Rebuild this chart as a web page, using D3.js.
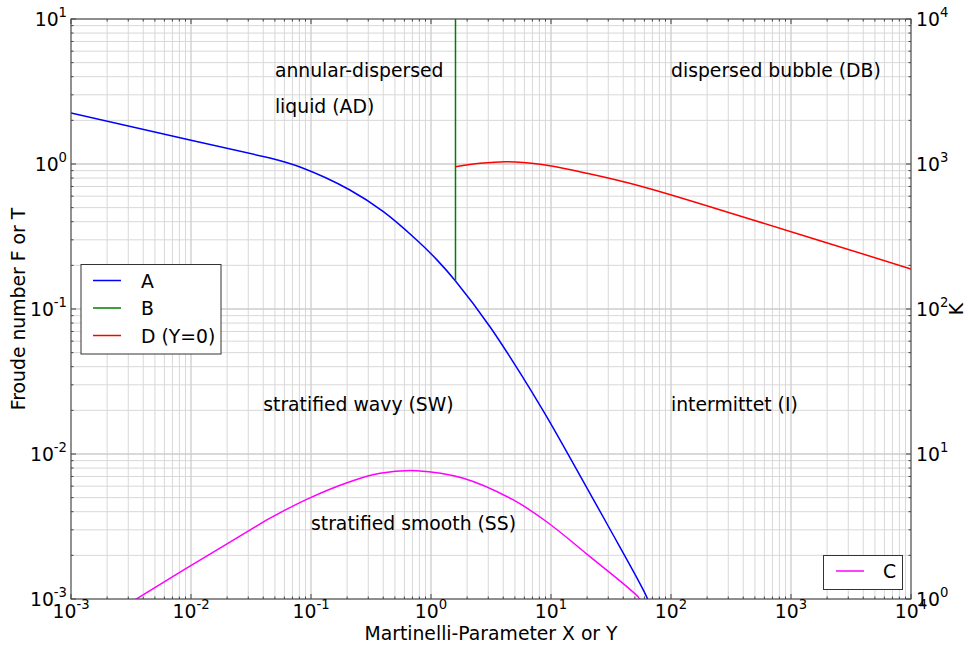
<!DOCTYPE html>
<html><head><meta charset="utf-8">
<script src="https://cdn.jsdelivr.net/npm/d3@7"></script>
<style>body{margin:0;background:#fff}svg{display:block;font-family:"DejaVu Sans",sans-serif}</style>
</head><body><svg id="c" width="968" height="645"></svg>
<script>
// ---- data ----
const xTickExps = ["-3","-2","-1","0","1","2","3","4"];
const yLeftTickExps = ["-3","-2","-1","0","1"];
const yRightTickExps = ["0","1","2","3","4"];

const seriesNames = ["A","B","D (Y=0)","C"];

const aX = [0.001, 0.01, 0.0455, 0.081, 0.211, 0.401, 0.76, 1.116, 1.6, 3.1, 5.88, 9.2, 15.3, 29.1, 62.8, 64.5];
const aY = [2.25, 1.46, 1.10, 0.953, 0.662, 0.469, 0.299, 0.219, 0.156, 0.0755, 0.0334, 0.0181, 0.00863, 0.00333, 0.00103, 0.00095];
const aKink = 0.0455;

const bX = [1.6, 1.6];
const bY = [0.156, 10];

const dX = [1.6, 2.56, 4.27, 8.1, 19.9, 55.2, 482, 10000];
const dY = [0.958, 1.011, 1.037, 0.995, 0.863, 0.705, 0.411, 0.189];

// C is plotted against the right axis (K)
const cX = [0.0033, 0.00863, 0.0225, 0.0428, 0.092, 0.211, 0.376, 0.76, 1.86, 4.85, 9.2, 19.9, 53.4, 55];
const cK = [0.97, 1.58, 2.55, 3.51, 4.87, 6.44, 7.36, 7.67, 6.80, 4.82, 3.41, 2.04, 1.03, 0.98];
const cKink = 0.0428;

const annTexts = ["annular-dispersed", "liquid (AD)", "dispersed bubble (DB)", "stratified wavy (SW)", "intermittet (I)", "stratified smooth (SS)"];
const annX = [0.05, 0.05, 100, 0.04, 100, 0.1];
const annY = [4, 2.23, 4, 0.0198, 0.0198, 0.003];

const xLabel = "Martinelli-Parameter X or Y";
const yLabel = "Froude number F or T";
const y2Label = "K";

// ---- layout ----
const L = 71, R = 911, T = 19, B = 599;
const svg = d3.select("#c");
const x = d3.scaleLog().domain([1e-3, 1e4]).range([L, R]);
const y = d3.scaleLog().domain([1e-3, 1e1]).range([B, T]);
const y2 = d3.scaleLog().domain([1e0, 1e4]).range([B, T]);

const FS = 18.8, SFS = 13.2;

// grid
const decX = d3.range(-3, 4), decY = d3.range(-3, 1);
const minorX = [], minorY = [];
decX.forEach(e => { for (let m = 2; m <= 9; m++) minorX.push(m * Math.pow(10, e)); });
decY.forEach(e => { for (let m = 2; m <= 9; m++) minorY.push(m * Math.pow(10, e)); });
const majorX = xTickExps.map(e => Math.pow(10, +e));
const majorY = yLeftTickExps.map(e => Math.pow(10, +e));

const g = svg.append("g");
g.selectAll(".mgx").data(minorX).join("line")
  .attr("x1", d => x(d)).attr("x2", d => x(d)).attr("y1", T).attr("y2", B)
  .attr("stroke", "#d8d8d8").attr("stroke-width", 1);
g.selectAll(".mgy").data(minorY).join("line")
  .attr("y1", d => y(d)).attr("y2", d => y(d)).attr("x1", L).attr("x2", R)
  .attr("stroke", "#d8d8d8").attr("stroke-width", 1);
g.selectAll(".Mgx").data(majorX).join("line")
  .attr("x1", d => x(d)).attr("x2", d => x(d)).attr("y1", T).attr("y2", B)
  .attr("stroke", "#cccccc").attr("stroke-width", 1.3);
g.selectAll(".Mgy").data(majorY).join("line")
  .attr("y1", d => y(d)).attr("y2", d => y(d)).attr("x1", L).attr("x2", R)
  .attr("stroke", "#cccccc").attr("stroke-width", 1.3);

// clip
svg.append("clipPath").attr("id", "clip").append("rect")
  .attr("x", L).attr("y", T).attr("width", R - L).attr("height", B - T);
const plot = svg.append("g").attr("clip-path", "url(#clip)");

const mk = (xs, ys, sc) => xs.map((v, i) => [x(v), sc(ys[i])]);
const smooth = d3.line().curve(d3.curveCatmullRom.alpha(0.5));
const straight = d3.line();

function kinked(xs, ys, sc, kink) {
  const pts = mk(xs, ys, sc);
  const k = xs.findIndex(v => v >= kink);
  return straight(pts.slice(0, k + 1)) + smooth(pts.slice(k)).replace(/^M[^C]*/, "");
}
function drawPath(d, color) {
  plot.append("path").attr("d", d).attr("fill", "none").attr("stroke", color)
    .attr("stroke-width", 1.5).attr("stroke-linejoin", "round");
}
drawPath(kinked(aX, aY, y, aKink), "#0000ff");
drawPath(straight(mk(bX, bY, y)), "#008000");
drawPath(smooth(mk(dX, dY, y)), "#ff0000");
drawPath(kinked(cX, cK, y2, cKink), "#ff00ff");

// frame
svg.append("rect").attr("x", L).attr("y", T).attr("width", R - L).attr("height", B - T)
  .attr("fill", "none").attr("stroke", "#444").attr("stroke-width", 1);

// ticks (inward)
const tk = svg.append("g").attr("stroke", "#444").attr("stroke-width", 1);
majorX.forEach(v => {
  tk.append("line").attr("x1", x(v)).attr("x2", x(v)).attr("y1", B).attr("y2", B - 5);
  tk.append("line").attr("x1", x(v)).attr("x2", x(v)).attr("y1", T).attr("y2", T + 5);
});
minorX.forEach(v => {
  tk.append("line").attr("x1", x(v)).attr("x2", x(v)).attr("y1", B).attr("y2", B - 2.5);
  tk.append("line").attr("x1", x(v)).attr("x2", x(v)).attr("y1", T).attr("y2", T + 2.5);
});
majorY.forEach(v => {
  tk.append("line").attr("y1", y(v)).attr("y2", y(v)).attr("x1", L).attr("x2", L + 5);
  tk.append("line").attr("y1", y(v)).attr("y2", y(v)).attr("x1", R).attr("x2", R - 5);
});
minorY.forEach(v => {
  tk.append("line").attr("y1", y(v)).attr("y2", y(v)).attr("x1", L).attr("x2", L + 2.5);
  tk.append("line").attr("y1", y(v)).attr("y2", y(v)).attr("x1", R).attr("x2", R - 2.5);
});

// tick labels
function powLabel(sel, exp, px, py, anchor) {
  const t = sel.append("text").attr("x", px).attr("y", py).attr("text-anchor", anchor)
    .attr("font-size", FS).attr("fill", "#000");
  t.append("tspan").text("10");
  t.append("tspan").attr("font-size", SFS).attr("dy", -9).text(exp);
}
const lab = svg.append("g");
xTickExps.forEach(e => powLabel(lab, e, x(Math.pow(10, +e)), 618, "middle"));
yLeftTickExps.forEach(e => powLabel(lab, e, 67, y(Math.pow(10, +e)) + 7, "end"));
yRightTickExps.forEach(e => powLabel(lab, e, 916, y2(Math.pow(10, +e)) + 7, "start"));

// axis labels
svg.append("text").attr("x", (L + R) / 2).attr("y", 640).attr("text-anchor", "middle")
  .attr("font-size", FS).text(xLabel);
svg.append("text").attr("transform", `translate(25,${(T + B) / 2}) rotate(-90)`).attr("text-anchor", "middle")
  .attr("font-size", FS).text(yLabel);
svg.append("text").attr("transform", `translate(963,${(T + B) / 2}) rotate(-90)`).attr("text-anchor", "middle")
  .attr("font-size", FS).text(y2Label);

// annotations
annTexts.forEach((s, i) => {
  svg.append("text").attr("x", x(annX[i])).attr("y", y(annY[i])).attr("font-size", FS).text(s);
});

// legends
const colors = ["#0000ff", "#008000", "#ff0000", "#ff00ff"];
const lg = svg.append("g");
lg.append("rect").attr("x", 81).attr("y", 264.5).attr("width", 140).attr("height", 89.5)
  .attr("fill", "#fff").attr("stroke", "#333").attr("stroke-width", 1);
[0, 1, 2].forEach(i => {
  const yy = 280.5 + i * 27.5;
  lg.append("line").attr("x1", 93).attr("x2", 121).attr("y1", yy).attr("y2", yy)
    .attr("stroke", colors[i]).attr("stroke-width", 1.5);
  lg.append("text").attr("x", 141).attr("y", yy + 7).attr("font-size", FS).text(seriesNames[i]);
});
lg.append("rect").attr("x", 823.5).attr("y", 555.5).attr("width", 79).attr("height", 34)
  .attr("fill", "#fff").attr("stroke", "#333").attr("stroke-width", 1);
lg.append("line").attr("x1", 836).attr("x2", 864).attr("y1", 571).attr("y2", 571)
  .attr("stroke", colors[3]).attr("stroke-width", 1.5);
lg.append("text").attr("x", 883).attr("y", 578).attr("font-size", FS).text(seriesNames[3]);
</script></body></html>
